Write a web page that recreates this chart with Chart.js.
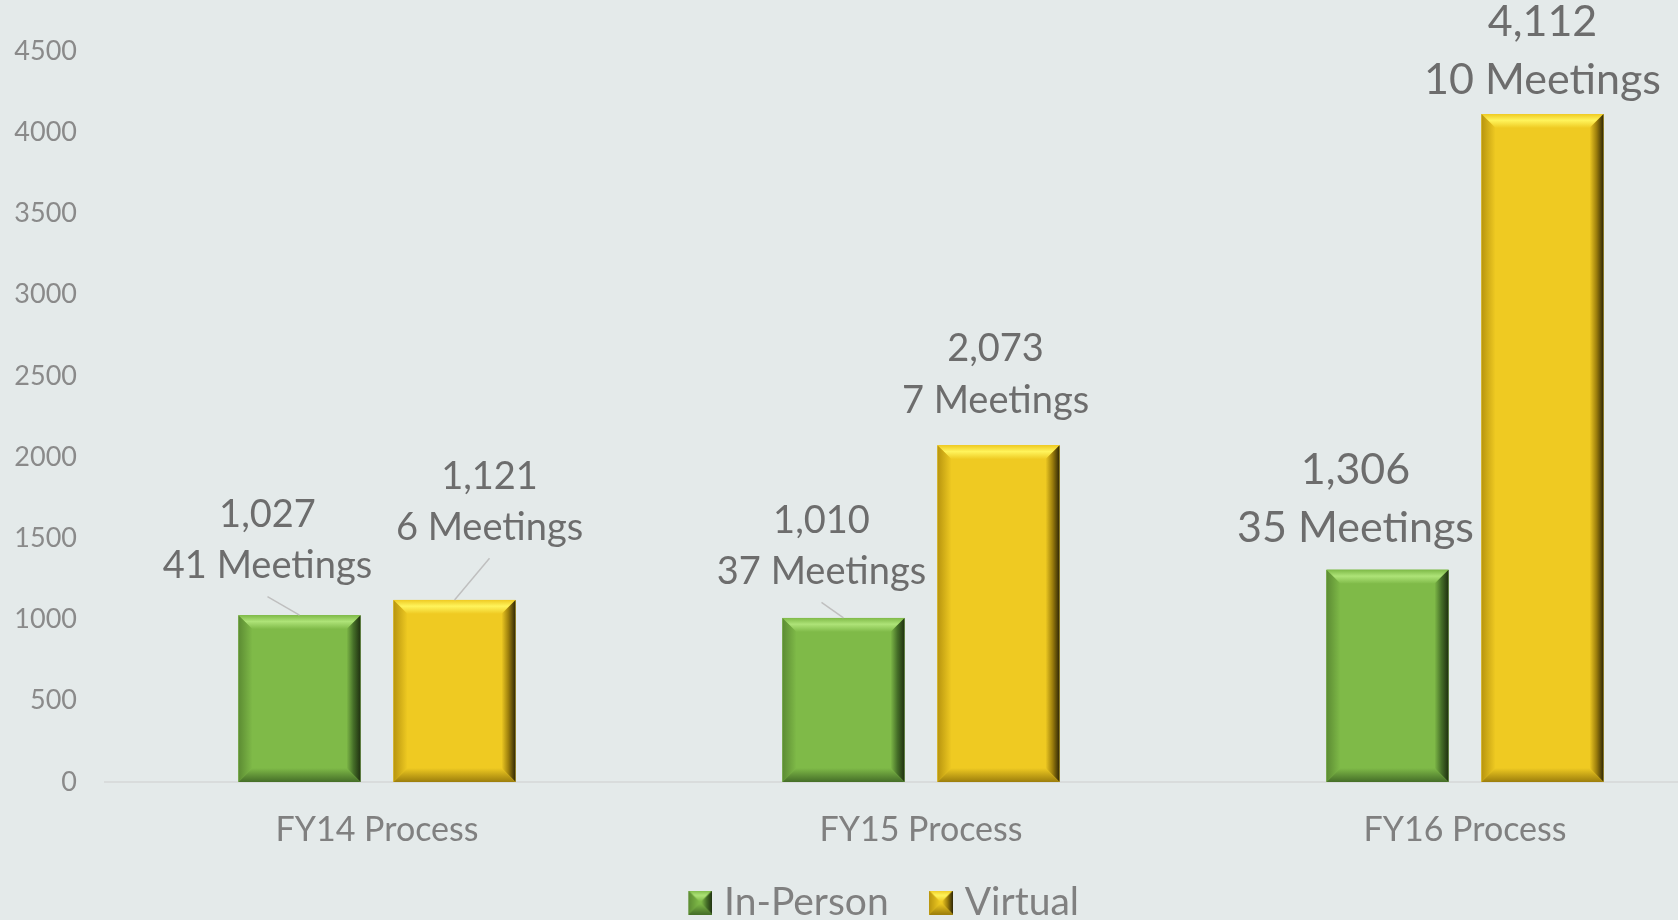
<!DOCTYPE html>
<html>
<head>
<meta charset="utf-8">
<script src="https://cdn.jsdelivr.net/npm/chart.js@4.4.0/dist/chart.umd.min.js"></script>
<style>
  html, body { margin: 0; padding: 0; background: #e4eaea; overflow: hidden; }
  #wrap { width: 1678px; height: 920px; overflow: hidden; }
</style>
</head>
<body>
<div id="wrap"><canvas id="chart" width="1760" height="932"></canvas></div>
<script>
const categories = ["FY14 Process", "FY15 Process", "FY16 Process"];
const inPerson = [1027, 1010, 1306];
const virtual = [1121, 2073, 4112];
const inPersonMeetings = [41, 37, 35];
const virtualMeetings = [6, 7, 10];
const yMax = 4500;
const yStep = 500;

// label placement relative to bar top-centre: [dx, gap above bar to 2nd line, font size, leader line]
const labelPos = [
  [[-32, 49, 38, true], [35, 72, 38, true]],
  [[-22, 46, 38, true], [-3, 45, 38, false]],
  [[-32, 42, 43, false], [0, 34, 43, false]],
];

const FONT = "Lato, 'Open Sans', sans-serif";
const colors = {
  green: { face: "#7fba48", top: "#aee378", left: "#5c8c33", right: "#1f3010", bottom: "#456e28" },
  yellow: { face: "#efca22", top: "#fff45c", left: "#b8950f", right: "#2e2606", bottom: "#9c7e0c" },
};

function bevelBox(ctx, l, t, r, b, bv, c) {
  ctx.fillStyle = c.face;
  ctx.fillRect(l, t, r - l, b - t);
  const poly = (pts, fill) => {
    ctx.beginPath();
    ctx.moveTo(pts[0][0], pts[0][1]);
    pts.slice(1).forEach(p => ctx.lineTo(p[0], p[1]));
    ctx.closePath();
    ctx.fillStyle = fill;
    ctx.fill();
  };
  const grad = (x0, y0, x1, y1, stops) => {
    const g = ctx.createLinearGradient(x0, y0, x1, y1);
    stops.forEach(([o, col]) => g.addColorStop(o, col));
    return g;
  };
  poly([[l, t], [r, t], [r - bv, t + bv], [l + bv, t + bv]],
    grad(0, t, 0, t + bv, [[0, c.face], [0.45, c.top], [1, c.face]]));
  poly([[l, t], [l + bv, t + bv], [l + bv, b - bv], [l, b]],
    grad(l, 0, l + bv, 0, [[0, c.left], [1, c.face]]));
  poly([[r, t], [r, b], [r - bv, b - bv], [r - bv, t + bv]],
    grad(r - bv, 0, r, 0, [[0, c.face], [0.5, c.bottom], [1, c.right]]));
  poly([[l, b], [r, b], [r - bv, b - bv], [l + bv, b - bv]],
    grad(0, b - bv, 0, b, [[0, c.face], [1, c.bottom]]));
}

// legend swatch: 24px bevelled square at the right of a wider transparent image,
// the blank left part gives the gap after the previous legend item
const LEGEND_W = 46.5;
function legendIcon(c) {
  const cv = document.createElement("canvas");
  cv.width = Math.round(LEGEND_W + 15); cv.height = 24;
  bevelBox(cv.getContext("2d"), cv.width - 24, 0, cv.width, 24, 11, c);
  return cv;
}

const bevelPlugin = {
  id: "bevel",
  afterDatasetsDraw(chart) {
    const ctx = chart.ctx;
    const keys = ["green", "yellow"];
    chart.data.datasets.forEach((ds, di) => {
      chart.getDatasetMeta(di).data.forEach(bar => {
        const l = bar.x - bar.width / 2, r = bar.x + bar.width / 2;
        bevelBox(ctx, l, bar.y, r, bar.base, 14, colors[keys[di]]);
      });
    });
    // data labels
    const meetings = [inPersonMeetings, virtualMeetings];
    chart.data.datasets.forEach((ds, di) => {
      chart.getDatasetMeta(di).data.forEach((bar, i) => {
        const [dx, gap, size, leader] = labelPos[i][di];
        const cx = bar.x + dx;
        const y2 = bar.y - gap;
        const y1 = y2 - size * 1.35;
        ctx.save();
        ctx.fillStyle = "#6d6d6d";
        ctx.textAlign = "center";
        ctx.textBaseline = "middle";
        ctx.font = size + "px " + FONT;
        ctx.fillText(ds.data[i].toLocaleString("en-US"), cx, y1);
        ctx.fillText(meetings[di][i] + " Meetings", cx, y2);
        if (leader) {
          ctx.strokeStyle = "#bfbfbf";
          ctx.lineWidth = 1.5;
          ctx.beginPath();
          ctx.moveTo(cx, y2 + size * 0.8);
          ctx.lineTo(bar.x, bar.y);
          ctx.stroke();
        }
        ctx.restore();
      });
    });
  }
};

new Chart(document.getElementById("chart"), {
  type: "bar",
  data: {
    labels: categories,
    datasets: [
      { label: "In-Person", data: inPerson, backgroundColor: colors.green.face },
      { label: "Virtual", data: virtual, backgroundColor: colors.yellow.face },
    ],
  },
  options: {
    responsive: false,
    animation: false,
    devicePixelRatio: 1,
    categoryPercentage: 0.57,
    barPercentage: 0.787,
    layout: { padding: { top: 51, right: 23, left: 0, bottom: 0 } },
    plugins: {
      tooltip: { enabled: false },
      legend: {
        position: "bottom",
        labels: {
          usePointStyle: true,
          pointStyleWidth: LEGEND_W,
          boxHeight: 24,
          padding: 10,
          color: "#808080",
          font: { family: FONT, size: 39 },
          generateLabels: chart => chart.data.datasets.map((ds, i) => ({
            text: ds.label,
            pointStyle: legendIcon(i === 0 ? colors.green : colors.yellow),
            fontColor: "#808080",
            datasetIndex: i,
            hidden: false,
            lineWidth: 0,
          })),
        },
      },
    },
    scales: {
      x: {
        grid: { display: false, drawTicks: false },
        border: { display: true, color: "#d9dcdc", width: 2 },
        ticks: { color: "#808080", padding: 28, font: { family: FONT, size: 34 } },
        afterFit: s => { s.height = 91; },
      },
      y: {
        min: 0,
        max: yMax,
        grid: { display: false, drawTicks: false },
        border: { display: false },
        ticks: {
          stepSize: yStep,
          color: "#8a8a8a",
          padding: 28,
          font: { family: FONT, size: 27 },
          callback: v => String(v),
        },
        afterFit: s => { s.width = 105; },
      },
    },
  },
  plugins: [bevelPlugin],
});
</script>
</body>
</html>
